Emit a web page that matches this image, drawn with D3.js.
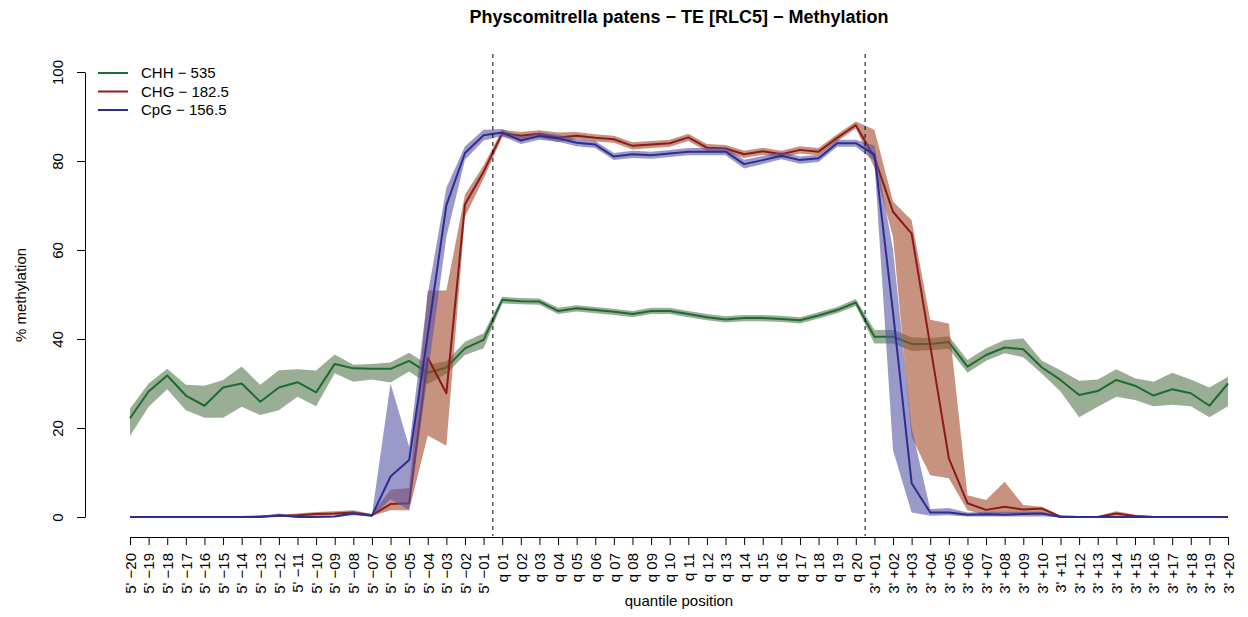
<!DOCTYPE html>
<html>
<head>
<meta charset="utf-8">
<script src="https://cdn.jsdelivr.net/npm/d3@7/dist/d3.min.js"></script>
<style>
  body { margin: 0; background: #fff; }
  svg { font-family: "Liberation Sans", Arial, Helvetica, sans-serif; }
</style>
</head>
<body>
<svg id="chart" width="1248" height="617"></svg>
<script>
// ---------- data ----------
const categories = [
  "5' \u221220","5' \u221219","5' \u221218","5' \u221217","5' \u221216","5' \u221215","5' \u221214","5' \u221213","5' \u221212","5' \u221211",
  "5' \u221210","5' \u221209","5' \u221208","5' \u221207","5' \u221206","5' \u221205","5' \u221204","5' \u221203","5' \u221202","5' \u221201",
  "q 01","q 02","q 03","q 04","q 05","q 06","q 07","q 08","q 09","q 10",
  "q 11","q 12","q 13","q 14","q 15","q 16","q 17","q 18","q 19","q 20",
  "3' +01","3' +02","3' +03","3' +04","3' +05","3' +06","3' +07","3' +08","3' +09","3' +10",
  "3' +11","3' +12","3' +13","3' +14","3' +15","3' +16","3' +17","3' +18","3' +19","3' +20"
];

const chh   = [22.2,28.2,31.8,27.3,25.0,29.1,30.0,25.9,29.1,30.3, 28.0,34.4,33.4,33.3,33.3,35.1,32.4,33.6,37.9,39.8,
               48.8,48.5,48.4,46.3,46.9,46.5,46.1,45.6,46.3,46.3, 45.6,44.9,44.4,44.7,44.7,44.5,44.2,45.3,46.5,48.2,
               40.5,40.5,38.9,38.9,39.3,33.8,36.4,38.1,37.7,33.6, 30.8,27.4,28.3,30.8,29.5,27.3,28.7,27.8,25.0,30.0];
const chhLo = [18.2,24.8,28.7,24.0,22.3,22.3,24.8,22.9,24.0,27.0, 24.9,32.3,30.4,30.9,30.2,32.7,29.9,32.2,36.4,37.9,
               48.0,47.8,47.7,45.6,46.2,45.8,45.4,44.9,45.6,45.6, 44.9,44.2,43.7,44.0,44.0,43.8,43.5,44.6,45.8,47.4,
               39.0,39.0,37.3,37.5,37.8,32.4,35.1,36.8,35.9,32.2, 28.2,22.4,24.8,27.0,26.3,24.9,25.2,24.9,22.4,24.9];
const chhHi = [24.4,30.0,33.3,29.7,29.5,30.8,33.8,29.7,33.0,33.2, 32.9,36.5,34.2,34.4,34.7,36.9,34.2,35.0,39.4,41.3,
               49.5,49.2,49.1,47.0,47.6,47.2,46.8,46.3,47.0,47.0, 46.3,45.6,45.1,45.4,45.4,45.2,44.9,46.0,47.2,49.0,
               42.0,42.0,40.4,40.2,40.6,35.3,37.9,39.8,40.1,35.1, 33.0,30.6,30.9,33.2,31.2,30.4,32.4,30.9,29.1,31.5];

const chg   = [0,0,0,0,0,0,0,0.1,0.2,0.4, 0.7,0.8,1.0,0.4,2.9,3.1,35.8,27.8,70.3,77.6,
               86.2,85.7,86.1,85.3,85.7,85.2,84.9,83.4,83.7,84.0, 85.3,83.0,82.8,81.5,82.2,81.5,82.5,82.1,85.2,88.1,
               80.8,68.6,63.7,38.5,13.2,3.1,1.6,2.3,1.7,1.9, 0.1,0,0,0.8,0.2,0,0,0,0,0];
const chgLo = [0,0,0,0,0,0,0,0,0,0.1, 0.3,0.4,0.6,0.2,1.5,1.5,18.3,16.0,67.5,76.0,
               85.4,84.9,85.3,84.2,84.9,84.4,84.1,82.6,82.9,83.2, 84.5,82.2,82.0,80.7,81.4,80.7,81.7,81.3,84.4,87.3,
               78.5,63.0,18.0,9.4,8.7,1.5,0.5,0.8,0.8,0.8, 0,0,0,0.3,0,0,0,0,0,0];
const chgHi = [0.2,0.2,0.2,0.2,0.2,0.2,0.2,0.3,0.5,0.8, 1.1,1.3,1.5,0.7,6.1,6.5,50.9,50.9,72.5,79.0,
               87.0,86.5,86.9,86.4,86.5,86.0,85.7,84.2,84.5,84.8, 86.1,83.8,83.6,82.3,83.0,82.3,83.3,82.9,86.0,88.9,
               87.0,70.9,66.7,44.3,43.5,4.9,3.8,7.9,2.7,2.3, 0.3,0.2,0.2,1.3,0.5,0.2,0.2,0.2,0.2,0.2];

const cpg   = [0,0,0,0,0,0,0,0,0.4,0, 0,0.1,0.8,0.3,9.1,12.8,41.0,70.1,81.8,85.8,
               86.4,84.6,85.6,85.1,84.1,83.7,81.0,81.5,81.3,81.7, 82.1,82.1,82.1,79.3,80.2,81.2,80.2,80.6,84.0,84.0,
               81.5,46.0,7.6,1.0,1.0,0.5,0.6,0.5,0.7,0.8, 0,0,0,0,0,0,0,0,0,0];
const cpgLo = [0,0,0,0,0,0,0,0,0.1,0, 0,0,0.4,0.1,4.0,1.6,32.0,63.0,80.3,84.6,
               85.6,83.8,84.8,84.3,83.3,82.9,80.2,80.7,80.5,80.9, 81.3,81.3,81.3,78.3,79.3,80.4,79.4,79.8,83.2,83.2,
               80.0,15.0,1.0,0.3,0.4,0.1,0.1,0.1,0.1,0.1, 0,0,0,0,0,0,0,0,0,0];
const cpgHi = [0.2,0.2,0.2,0.2,0.2,0.2,0.2,0.2,0.8,0.3, 0.3,0.3,1.2,0.5,30.0,15.8,50.0,74.0,83.3,87.0,
               87.2,85.4,86.4,85.9,84.9,84.5,81.8,82.3,82.1,82.5, 82.9,82.9,82.9,80.3,81.1,82.0,81.0,81.4,84.8,84.8,
               83.5,60.0,20.0,1.8,2.0,1.0,1.2,1.2,1.2,1.2, 0.2,0.2,0.2,0.2,0.2,0.2,0.2,0.2,0.2,0.2];

const yTicks = [0, 20, 40, 60, 80, 100];
const seriesNames = ["CHH \u2212 535", "CHG \u2212 182.5", "CpG \u2212 156.5"];
const lineColors = ["#1d6b34", "#8b1a1a", "#2d2d8f"];
const bandColors = ["#577850", "#a3492b", "#5855a7"];

// ---------- chart ----------
const svg = d3.select("#chart");
const FS = 15;

const x = d3.scalePoint().domain(categories).range([130, 1228]);
const y = d3.scaleLinear().domain([0, 100]).range([517, 72]);

const series = [
  {name: seriesNames[0], v: chh, lo: chhLo, hi: chhHi},
  {name: seriesNames[1], v: chg, lo: chgLo, hi: chgHi},
  {name: seriesNames[2], v: cpg, lo: cpgLo, hi: cpgHi}
];

const area = d3.area()
  .x((d, i) => x(categories[i]))
  .y0(d => y(d[0]))
  .y1(d => y(d[1]));
const line = d3.line()
  .x((d, i) => x(categories[i]))
  .y(d => y(d));

series.forEach((s, k) => {
  const band = s.lo.map((l, i) => [l, s.hi[i]]);
  svg.append("path")
    .attr("d", area(band))
    .attr("fill", bandColors[k])
    .attr("fill-opacity", 0.6)
    .attr("stroke", "none");
  svg.append("path")
    .attr("d", line(s.v))
    .attr("fill", "none")
    .attr("stroke", lineColors[k])
    .attr("stroke-width", 2)
    .attr("stroke-linejoin", "round");
});

// dashed separators
const step = x.step();
[categories[19], categories[39]].forEach(c => {
  const xv = x(c) + step / 2;
  svg.append("line")
    .attr("x1", xv).attr("x2", xv)
    .attr("y1", 54).attr("y2", 536)
    .attr("stroke", "#000")
    .attr("stroke-width", 1)
    .attr("stroke-dasharray", "4,4");
});

// x axis
const gx = svg.append("g")
  .attr("transform", "translate(0,537)")
  .call(d3.axisBottom(x).tickSize(8).tickSizeOuter(0));
gx.select(".domain").attr("stroke", "#000");
gx.selectAll(".tick line").attr("stroke", "#000");
gx.selectAll(".tick text")
  .attr("font-size", FS)
  .attr("fill", "#000")
  .attr("transform", "rotate(-90)")
  .attr("text-anchor", "end")
  .attr("x", -16)
  .attr("y", 0)
  .attr("dy", "0.35em");

// y axis
const gy = svg.append("g")
  .attr("transform", "translate(85,0)")
  .call(d3.axisLeft(y).tickValues(yTicks).tickSize(8).tickSizeOuter(0));
gy.select(".domain").attr("stroke", "#000");
gy.selectAll(".tick line").attr("stroke", "#000");
gy.selectAll(".tick text")
  .attr("font-size", FS)
  .attr("fill", "#000")
  .attr("text-anchor", "middle")
  .attr("transform", "rotate(-90)")
  .attr("x", 0)
  .attr("y", -22)
  .attr("dy", 0);

// titles
svg.append("text")
  .attr("x", 679).attr("y", 23)
  .attr("text-anchor", "middle")
  .attr("font-size", 18)
  .attr("font-weight", "bold")
  .text("Physcomitrella patens \u2212 TE [RLC5] \u2212 Methylation");

svg.append("text")
  .attr("x", 679).attr("y", 606)
  .attr("text-anchor", "middle")
  .attr("font-size", FS)
  .text("quantile position");

svg.append("text")
  .attr("transform", "translate(26,295) rotate(-90)")
  .attr("text-anchor", "middle")
  .attr("font-size", FS)
  .text("% methylation");

// legend
const leg = svg.append("g");
series.forEach((s, k) => {
  const ly = 73 + k * 18.5;
  leg.append("line")
    .attr("x1", 98).attr("x2", 128)
    .attr("y1", ly).attr("y2", ly)
    .attr("stroke", lineColors[k])
    .attr("stroke-width", 2);
  leg.append("text")
    .attr("x", 141).attr("y", ly + 5)
    .attr("font-size", FS)
    .text(s.name);
});
</script>
</body>
</html>
